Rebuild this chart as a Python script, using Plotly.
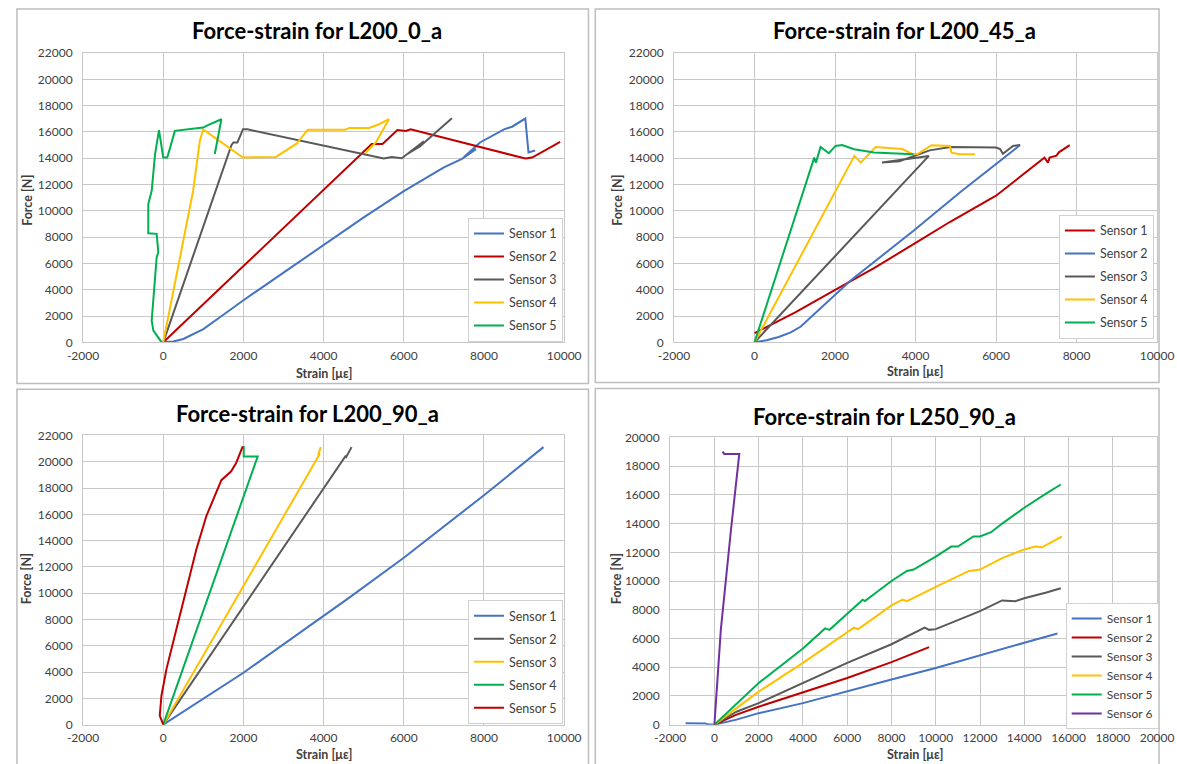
import plotly.graph_objects as go

W, H = 1177, 764
FONT = "Lato"

# ---------------- data ----------------
titles = ["Force-strain for L200_0_a", "Force-strain for L200_45_a",
          "Force-strain for L200_90_a", "Force-strain for L250_90_a"]
x_title = "Strain [με]"
y_title = "Force [N]"

x_ticks_a = [-2000, 0, 2000, 4000, 6000, 8000, 10000]
y_ticks_a = [0, 2000, 4000, 6000, 8000, 10000, 12000, 14000, 16000, 18000, 20000, 22000]
x_ticks_b = [-2000, 0, 2000, 4000, 6000, 8000, 10000, 12000, 14000, 16000, 18000, 20000]
y_ticks_b = [0, 2000, 4000, 6000, 8000, 10000, 12000, 14000, 16000, 18000, 20000]

# Panel 1: L200_0_a
p1_names = ["Sensor 1", "Sensor 2", "Sensor 3", "Sensor 4", "Sensor 5"]
p1_s1_x = [0, 250, 500, 1000, 1500, 2000, 3000, 4000, 5000, 6000, 7000, 7450, 7800, 7500, 7900, 8500, 8700, 9030, 9110, 9275]
p1_s1_y = [0, 60, 250, 1000, 2100, 3200, 5300, 7400, 9500, 11500, 13300, 13950, 14700, 14100, 15200, 16200, 16400, 17020, 14440, 14590]
p1_s2_x = [0, 2000, 4000, 5200, 5470, 5840, 6050, 6170, 9030, 9200, 9900]
p1_s2_y = [0, 5800, 11550, 15080, 15080, 16140, 16080, 16200, 13980, 14050, 15250]
p1_s3_x = [0, 1700, 1750, 1850, 1990, 2100, 5500, 5700, 5950, 6500, 6100, 6400, 6700, 7200]
p1_s3_y = [0, 15000, 15200, 15200, 16210, 16200, 13980, 14100, 14000, 15300, 14350, 14900, 15700, 17050]
p1_s4_x = [0, 745, 912, 994, 1988, 2810, 3325, 3605, 4540, 4640, 5135, 5380, 5630, 5300, 5050]
p1_s4_y = [0, 11530, 15326, 16200, 14060, 14100, 15113, 16177, 16177, 16300, 16300, 16590, 16970, 15200, 14440]
p1_s5_x = [-40, -164, -248, -288, -230, -164, -124, -164, -373, -373, -288, -205, -107, 0, 100, 290, 994, 1100, 1450, 1285]
p1_s5_y = [0, 530, 910, 1670, 4000, 6470, 6850, 8250, 8290, 10520, 11530, 14300, 16137, 14060, 14060, 16085, 16335, 16500, 16970, 14320]

# Panel 2: L200_45_a
p2_names = ["Sensor 1", "Sensor 2", "Sensor 3", "Sensor 4", "Sensor 5"]
p2_s1_x = [0, 1000, 1970, 3000, 3950, 4750, 4850, 6000, 7200, 7290, 7330, 7500, 7560, 7830]
p2_s1_y = [700, 2250, 3930, 5700, 7470, 8950, 9150, 11150, 14050, 13670, 14050, 14200, 14450, 15000]
p2_s2_x = [0, 300, 600, 900, 1150, 1400, 2380, 3950, 5100, 6590]
p2_s2_y = [0, 150, 400, 760, 1200, 1900, 4690, 8480, 11390, 14990]
p2_s3_x = [0, 4330, 3165, 3600, 4350, 4865, 6000, 6100, 6170, 6420, 6600]
p2_s3_y = [0, 14180, 13670, 13780, 14600, 14850, 14810, 14700, 14350, 14940, 15000]
p2_s4_x = [0, 2480, 2640, 3010, 3674, 3900, 4047, 4400, 4853, 4894, 5100, 5474]
p2_s4_y = [0, 14180, 13670, 14860, 14700, 14350, 14322, 14990, 14940, 14430, 14300, 14300]
p2_s5_x = [0, 1443, 1483, 1525, 1640, 1846, 2012, 2177, 2473, 2968, 3947]
p2_s5_y = [0, 13670, 14050, 13670, 14860, 14380, 14940, 15000, 14690, 14430, 14300]

# Panel 3: L200_90_a
p3_names = ["Sensor 1", "Sensor 2", "Sensor 3", "Sensor 4", "Sensor 5"]
p3_s1_x = [0, 2000, 4640, 6000, 8000, 9484]
p3_s1_y = [0, 3950, 9665, 12700, 17450, 21112]
p3_s2_x = [0, 4540, 4560, 4697]
p3_s2_y = [0, 20400, 20350, 21112]
p3_s3_x = [0, 3838, 3905, 3870, 3930]
p3_s3_y = [0, 20230, 20600, 20600, 21112]
p3_s4_x = [0, 2355, 2007, 2007, 1980]
p3_s4_y = [0, 20400, 20400, 21112, 21112]
p3_s5_x = [0, -87, -45, 80, 245, 410, 617, 825, 1073, 1404, 1450, 1694, 1818, 1983]
p3_s5_y = [0, 683, 2200, 4225, 6250, 8270, 10800, 13330, 15855, 18390, 18600, 19270, 19905, 21170]

# Panel 4: L250_90_a
p4_names = ["Sensor 1", "Sensor 2", "Sensor 3", "Sensor 4", "Sensor 5", "Sensor 6"]
p4_s1_x = [-1300, -400, -300, -200, 0, 1000, 2000, 4000, 6000, 8000, 10000, 12000, 14000, 15500]
p4_s1_y = [100, 80, 20, 30, 0, 350, 800, 1500, 2350, 3150, 3950, 4800, 5700, 6350]
p4_s2_x = [0, 1000, 2000, 4000, 6000, 8000, 9700]
p4_s2_y = [0, 700, 1250, 2250, 3250, 4350, 5400]
p4_s3_x = [0, 1000, 2000, 4000, 6000, 8000, 9500, 9700, 10000, 12000, 13000, 13600, 14000, 15000, 15650]
p4_s3_y = [0, 900, 1500, 2900, 4300, 5600, 6750, 6600, 6650, 7900, 8650, 8600, 8800, 9200, 9500]
p4_s4_x = [0, 2000, 4000, 6000, 6300, 6500, 8000, 8500, 8700, 10000, 11500, 12000, 13000, 14000, 14500, 14800, 15700]
p4_s4_y = [0, 2300, 4300, 6400, 6750, 6650, 8300, 8700, 8600, 9600, 10700, 10800, 11600, 12200, 12400, 12350, 13100]
p4_s5_x = [0, 2000, 4000, 5000, 5200, 6000, 6700, 6800, 8000, 8700, 9000, 10000, 10700, 11000, 11700, 12000, 12500, 13000, 14000, 15000, 15650]
p4_s5_y = [0, 2900, 5300, 6700, 6600, 7700, 8700, 8600, 10000, 10700, 10800, 11700, 12400, 12400, 13100, 13100, 13400, 14000, 15100, 16100, 16720]
p4_s6_x = [0, 290, 744, 1047, 1124, 444, 367]
p4_s6_y = [0, 6600, 13500, 17900, 18850, 18850, 19010]

# ---------------- styling ----------------
BLUE, RED, GRAY, YEL, GRN, PUR = "#4472C4", "#C00000", "#595959", "#FFC000", "#00B050", "#7030A0"
GRID = "#c8c8c8"
TXT = "#404040"

panels = [
    dict(names=p1_names, xs=[p1_s1_x, p1_s2_x, p1_s3_x, p1_s4_x, p1_s5_x],
         ys=[p1_s1_y, p1_s2_y, p1_s3_y, p1_s4_y, p1_s5_y],
         colors=[BLUE, RED, GRAY, YEL, GRN],
         xt=x_ticks_a, yt=y_ticks_a, plot=(69, 564, 46, 341), title=(310, 23),
         xlab=(317, 373), ylab=(11, 196), leg=(465, 214), gap=3.75, lfs=12.5, box=(1, 589, 1, 383)),
    dict(names=p2_names, xs=[p2_s1_x, p2_s2_x, p2_s3_x, p2_s4_x, p2_s5_x],
         ys=[p2_s1_y, p2_s2_y, p2_s3_y, p2_s4_y, p2_s5_y],
         colors=[RED, BLUE, GRAY, YEL, GRN],
         xt=x_ticks_a, yt=y_ticks_a, plot=(677, 1174, 46, 341), title=(914, 23),
         xlab=(925, 371), ylab=(618, 196), leg=(1073, 211), gap=3.75, lfs=12.5, box=(596, 1176, 1, 382)),
    dict(names=p3_names, xs=[p3_s1_x, p3_s2_x, p3_s3_x, p3_s4_x, p3_s5_x],
         ys=[p3_s1_y, p3_s2_y, p3_s3_y, p3_s4_y, p3_s5_y],
         colors=[BLUE, GRAY, YEL, GRN, RED],
         xt=x_ticks_a, yt=y_ticks_a, plot=(69, 564, 436, 731), title=(300, 414),
         xlab=(317, 761), ylab=(11, 582), leg=(465, 604), gap=3.75, lfs=12.5, box=(1, 589, 389, 780)),
    dict(names=p4_names, xs=[p4_s1_x, p4_s2_x, p4_s3_x, p4_s4_x, p4_s5_x, p4_s6_x],
         ys=[p4_s1_y, p4_s2_y, p4_s3_y, p4_s4_y, p4_s5_y, p4_s6_y],
         colors=[BLUE, RED, GRAY, YEL, GRN, PUR],
         xt=x_ticks_b, yt=y_ticks_b, plot=(673, 1174, 438, 731), title=(894, 417),
         xlab=(925, 761), ylab=(618, 582), leg=(1080, 607), gap=0, lfs=12, box=(596, 1176, 388, 780)),
]

def px(x):
    return x / W

def py(y):
    return 1 - y / H

fig = go.Figure()
annotations = []
shapes = []
layout = dict(width=W, height=H, margin=dict(l=0, r=0, t=0, b=0),
              paper_bgcolor="white", plot_bgcolor="white", showlegend=True,
              font=dict(family=FONT, color=TXT))

for i, p in enumerate(panels):
    k = i + 1
    sfx = "" if k == 1 else str(k)
    legname = "legend" if k == 1 else f"legend{k}"
    x0, x1, y0, y1 = p["plot"]
    for j, (nm, xv, yv, col) in enumerate(zip(p["names"], p["xs"], p["ys"], p["colors"])):
        fig.add_trace(go.Scatter(x=xv, y=yv, mode="lines", name=nm,
                                 line=dict(color=col, width=2),
                                 xaxis=f"x{sfx}", yaxis=f"y{sfx}",
                                 legend=legname, legendgroup=f"p{k}s{j}"))
    xr = [p["xt"][0], p["xt"][-1]]
    yr = [p["yt"][0], p["yt"][-1]]
    layout[f"xaxis{sfx}"] = dict(domain=[px(x0), px(x1)], range=xr, anchor=f"y{sfx}",
                                 tickmode="array", tickvals=p["xt"], ticktext=[str(v) for v in p["xt"]],
                                 showgrid=True, gridcolor=GRID, gridwidth=1, zeroline=False,
                                 showline=True, linecolor=GRID, mirror=True,
                                 ticks="", ticklabelstandoff=2,
                                 tickfont=dict(family=FONT, size=12, color=TXT), fixedrange=True)
    layout[f"yaxis{sfx}"] = dict(domain=[py(y1), py(y0)], range=yr, anchor=f"x{sfx}",
                                 tickmode="array", tickvals=p["yt"], ticktext=[str(v) for v in p["yt"]],
                                 showgrid=True, gridcolor=GRID, gridwidth=1, zeroline=False,
                                 showline=True, linecolor=GRID, mirror=True,
                                 ticks="", ticklabelstandoff=7,
                                 tickfont=dict(family=FONT, size=12, color=TXT), fixedrange=True)
    layout[legname] = dict(x=px(p["leg"][0]), y=py(p["leg"][1]), xanchor="left", yanchor="top",
                           xref="paper", yref="paper",
                           bgcolor="white", bordercolor="#d0d0d0", borderwidth=1,
                           font=dict(family=FONT, size=p["lfs"], color=TXT),
                           tracegroupgap=p["gap"], traceorder="grouped")
    annotations.append(dict(text=f"<b>{titles[i]}</b>", x=px(p["title"][0]), y=py(p["title"][1]),
                            xref="paper", yref="paper", showarrow=False, xanchor="center", yanchor="middle",
                            font=dict(family=FONT, size=22, color="#000000")))
    annotations.append(dict(text=f"<b>{x_title}</b>", x=px(p["xlab"][0]), y=py(p["xlab"][1]),
                            xref="paper", yref="paper", showarrow=False, xanchor="center", yanchor="middle",
                            font=dict(family=FONT, size=12.5, color=TXT)))
    annotations.append(dict(text=f"<b>{y_title}</b>", x=px(p["ylab"][0]), y=py(p["ylab"][1]),
                            xref="paper", yref="paper", showarrow=False, xanchor="center", yanchor="middle",
                            textangle=-90, font=dict(family=FONT, size=12.5, color=TXT)))
    bx0, bx1, by0, by1 = p["box"]
    shapes.append(dict(type="rect", xref="paper", yref="paper",
                       x0=px(bx0), x1=px(bx1), y0=py(by1), y1=py(by0),
                       line=dict(color="#bdbdbd", width=1.5), fillcolor="rgba(0,0,0,0)", layer="below"))

layout["annotations"] = annotations
layout["shapes"] = shapes
fig.update_layout(**layout)
fig.write_html("out.html", config={"displayModeBar": False},
               post_script="document.body.style.margin='0';document.body.style.overflow='hidden';")
